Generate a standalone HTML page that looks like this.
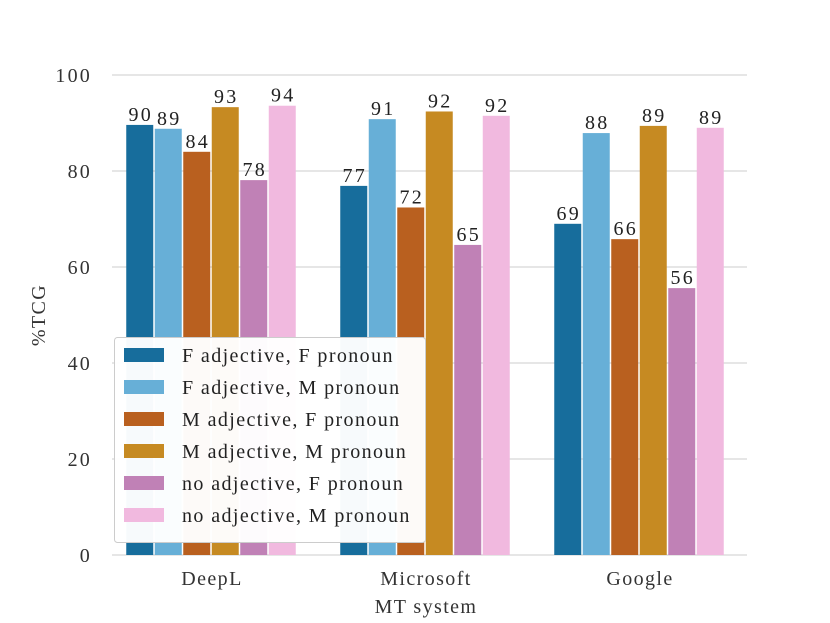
<!DOCTYPE html>
<html><head><meta charset="utf-8"><style>
html,body{margin:0;padding:0;background:#fff;}
svg{display:block;font-family:"Liberation Serif",serif;}
.w{letter-spacing:1.4px;}
.d{letter-spacing:2.2px;}
</style></head><body>
<svg id="chart" width="830" height="623"></svg>
<script>
const categories=["DeepL","Microsoft","Google"];
const seriesNames=["F adjective, F pronoun","F adjective, M pronoun","M adjective, F pronoun","M adjective, M pronoun","no adjective, F pronoun","no adjective, M pronoun"];
const seriesValues=[
 [89.6,76.9,69.0],
 [88.8,90.8,87.9],
 [84.0,72.4,65.8],
 [93.3,92.4,89.4],
 [78.1,64.6,55.6],
 [93.6,91.5,89.0]
];
const yTicks=[0,20,40,60,80,100];
const colors=["#176d9c","#67afd7","#b9601f","#c68a22","#c081b6","#f1b9df"];
const NS="http://www.w3.org/2000/svg";
const svg=document.getElementById('chart');
const X0=112,X1=747,Y0=555,Y1=75;
const y=v=>Y0-(v/100)*(Y0-Y1);
const groupStep=214, barW=28.5;
const xg=i=>211+groupStep*i;
function mk(t,a,txt){const e=document.createElementNS(NS,t);for(const k in a)e.setAttribute(k,a[k]);if(txt!==undefined)e.textContent=txt;svg.appendChild(e);return e;}
yTicks.forEach(t=>{
 const g=mk('line',{x1:X0,x2:X1,y1:y(t),y2:y(t),stroke:'#cccccc','stroke-width':1});
 
 
 const l=mk('text',{x:92,y:y(t)+7,'text-anchor':'end','font-size':20,fill:'#333',class:'d'},t);
 
 
});
categories.forEach((c,i)=>{
 const l=mk('text',{x:xg(i)+1,y:585,'text-anchor':'middle','font-size':20,fill:'#333',class:'w'},c);
 
 
 seriesValues.forEach((vals,s)=>{
  const v=vals[i];
  const bx=xg(i)-barW*3+s*barW;
  const r=mk('rect',{x:bx+0.75,y:y(v),width:barW-1.5,height:Y0-y(v),fill:colors[s]});
  
  
  const t=mk('text',{x:bx+barW/2+1,y:y(v)-4,'text-anchor':'middle','font-size':20,fill:'#222',class:'d'},Math.round(v));
  
  
 });
});
const yt=mk('text',{x:0,y:0,transform:'translate(45,315) rotate(-90)','text-anchor':'middle','font-size':20,fill:'#333',class:'w'},'%TCG');


const xt=mk('text',{x:426,y:613,'text-anchor':'middle','font-size':20,fill:'#333',class:'w'},'MT system');


const lb=mk('rect',{x:114.5,y:337.5,width:311,height:205,rx:3,fill:'#fff','fill-opacity':0.97,stroke:'#cccccc'});


seriesNames.forEach((n,s)=>{
 const yy=355+s*32;
 const p=mk('rect',{x:124,y:yy-7,width:40,height:14,fill:colors[s]});
 
 
 const t=mk('text',{x:182,y:yy+7,'font-size':20,fill:'#222',class:'w'},n);
 
 
});
</script>
</body></html>
